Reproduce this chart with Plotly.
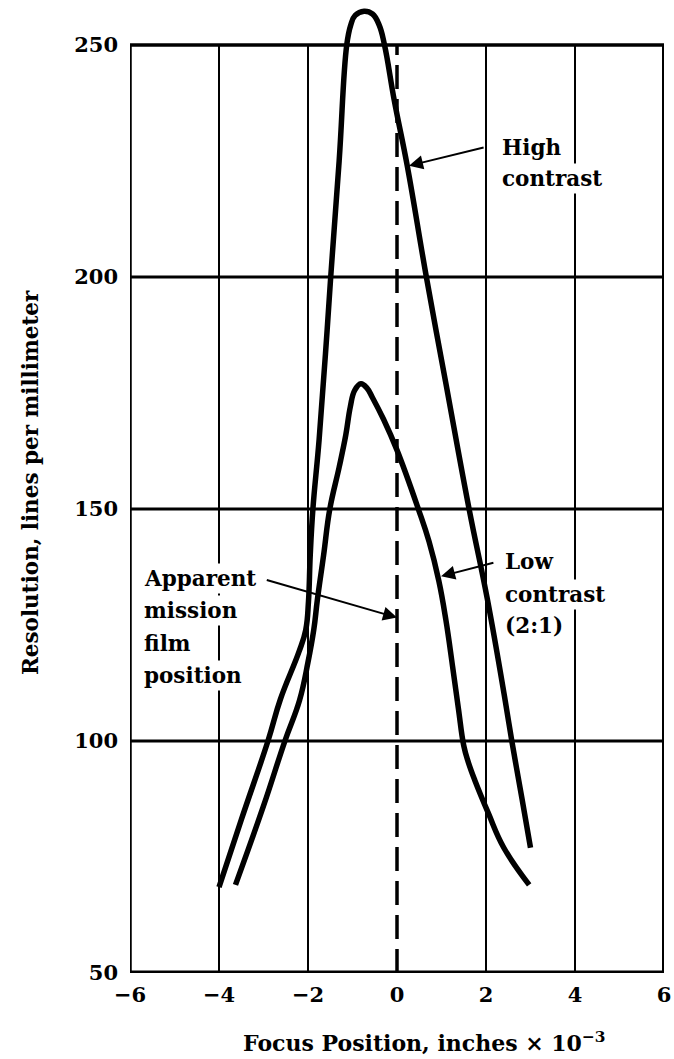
import plotly.graph_objects as go

# ---- data ----
hc_x = [-4.0, -3.5, -2.9, -2.62, -2.2, -2.05, -1.99, -1.95, -1.89, -1.75, -1.57, -1.49,
        -1.3, -1.13, -1.04, -0.94, -0.74, -0.55, -0.4, -0.28, -0.06, 0.23, 0.66, 1.1,
        1.62, 2.03, 2.43, 2.58, 2.81, 3.0]
hc_y = [68.5, 83, 100, 109, 119.3, 124, 130, 140, 150, 165, 188.6, 200,
        225, 250, 254.3, 256.4, 257.3, 256.7, 254.3, 250, 238, 224, 200, 177,
        150, 130.6, 108.8, 100, 87.5, 77]

lc_x = [-3.63, -3.0, -2.52, -2.19, -2.0, -1.87, -1.79, -1.65, -1.51, -1.3, -1.15, -1.05,
        -0.95, -0.81, -0.67, -0.55, -0.3, 0.0, 0.48, 0.72, 0.94, 1.1, 1.25, 1.38, 1.5,
        1.6, 1.75, 2.05, 2.4, 2.97]
lc_y = [69, 86, 100, 108.8, 117, 124, 130.4, 140, 150, 159, 166, 172,
        175.6, 177, 176, 174, 169.3, 162.7, 150, 143, 134.5, 126, 116, 107, 99,
        95.5, 91.5, 84.5, 77, 69]

x_ticks = [-6, -4, -2, 0, 2, 4, 6]
y_ticks = [50, 100, 150, 200, 250]
v_grid = [-4, -2, 2, 4]
h_grid = [100, 150, 200]
film_position = 0

x_min, x_max = -6, 6
y_min, y_max = 50, 250

FONT = "DejaVu Serif"

fig = go.Figure()
fig.add_trace(go.Scatter(x=hc_x, y=hc_y, mode="lines", name="High contrast",
                         line=dict(color="black", width=5.5, shape="spline", smoothing=1.2)))
fig.add_trace(go.Scatter(x=lc_x, y=lc_y, mode="lines", name="Low contrast (2:1)",
                         line=dict(color="black", width=5.5, shape="spline", smoothing=1.2)))

shapes = []
for gx in v_grid:
    shapes.append(dict(type="line", xref="x", yref="y", x0=gx, x1=gx, y0=y_min, y1=y_max,
                       line=dict(color="black", width=2), layer="below"))
for gy in h_grid:
    shapes.append(dict(type="line", xref="x", yref="y", x0=x_min, x1=x_max, y0=gy, y1=gy,
                       line=dict(color="black", width=3), layer="below"))
# frame
shapes.append(dict(type="line", xref="x", yref="y", x0=x_min, x1=x_max, y0=y_min, y1=y_min,
                   line=dict(color="black", width=5)))
shapes.append(dict(type="line", xref="x", yref="y", x0=x_min, x1=x_max, y0=y_max, y1=y_max,
                   line=dict(color="black", width=3.5), layer="below"))
shapes.append(dict(type="line", xref="x", yref="y", x0=x_min, x1=x_min, y0=y_min, y1=y_max,
                   line=dict(color="black", width=3.5)))
shapes.append(dict(type="line", xref="x", yref="y", x0=x_max, x1=x_max, y0=y_min, y1=y_max,
                   line=dict(color="black", width=4)))
# apparent film position (dashed)
shapes.append(dict(type="line", xref="x", yref="y", x0=film_position, x1=film_position,
                   y0=y_min, y1=y_max, line=dict(color="black", width=3.5, dash="24px,10px"),
                   layer="below"))

tfont = dict(family=FONT, size=21.5, color="black", weight="bold")
tickfont = dict(family=FONT, size=21, color="black", weight="bold")

annotations = []
def label(text, x, y):
    annotations.append(dict(text=text, x=x, y=y, xref="x", yref="y", showarrow=False,
                            xanchor="left", yanchor="middle", font=tfont,
                            bgcolor="white", borderpad=2))

for t, yy in zip(["High", "contrast"], [228, 221.3]):
    label(t, 2.3, yy)
for t, yy in zip(["Low", "contrast", "(2:1)"], [138.6, 131.5, 125]):
    label(t, 2.35, yy)
for t, yy in zip(["Apparent", "mission", "film", "position"], [135.1, 128.2, 121.1, 114.2]):
    label(t, -5.75, yy)

def arrow(tx, ty, sx, sy):
    annotations.append(dict(text="", x=tx, y=ty, ax=sx, ay=sy, xref="x", yref="y",
                            axref="x", ayref="y", showarrow=True, arrowhead=2,
                            arrowsize=1.4, arrowwidth=2, arrowcolor="black"))

arrow(0.27, 224, 1.98, 228)
arrow(0.99, 135.5, 2.2, 138.5)
arrow(0.0, 126.6, -2.96, 134.8)

# axis titles
annotations.append(dict(text="Focus Position, inches \u00d7 10<sup>\u22123</sup>",
                        xref="paper", yref="paper", x=0.552, y=-0.071,
                        showarrow=False, xanchor="center", yanchor="middle",
                        font=dict(family=FONT, size=22, color="black", weight="bold")))
annotations.append(dict(text="Resolution, lines per millimeter", xref="paper", yref="y",
                        x=(30 - 130) / 534, y=155.6, textangle=-90, showarrow=False,
                        xanchor="center", yanchor="middle", font=tfont))

fig.update_layout(
    width=674, height=1059,
    margin=dict(l=130, r=10, t=1, b=86),
    paper_bgcolor="white", plot_bgcolor="white",
    showlegend=False,
    shapes=shapes, annotations=annotations,
    xaxis=dict(range=[x_min, x_max], tickvals=x_ticks, showgrid=False, zeroline=False,
               showline=False, ticks="", tickfont=tickfont, ticklabelstandoff=7),
    yaxis=dict(range=[y_min, 259.5], tickvals=y_ticks, showgrid=False, zeroline=False,
               showline=False, ticks="", tickfont=tickfont, ticklabelstandoff=11),
)

fig.write_html("out.html")
